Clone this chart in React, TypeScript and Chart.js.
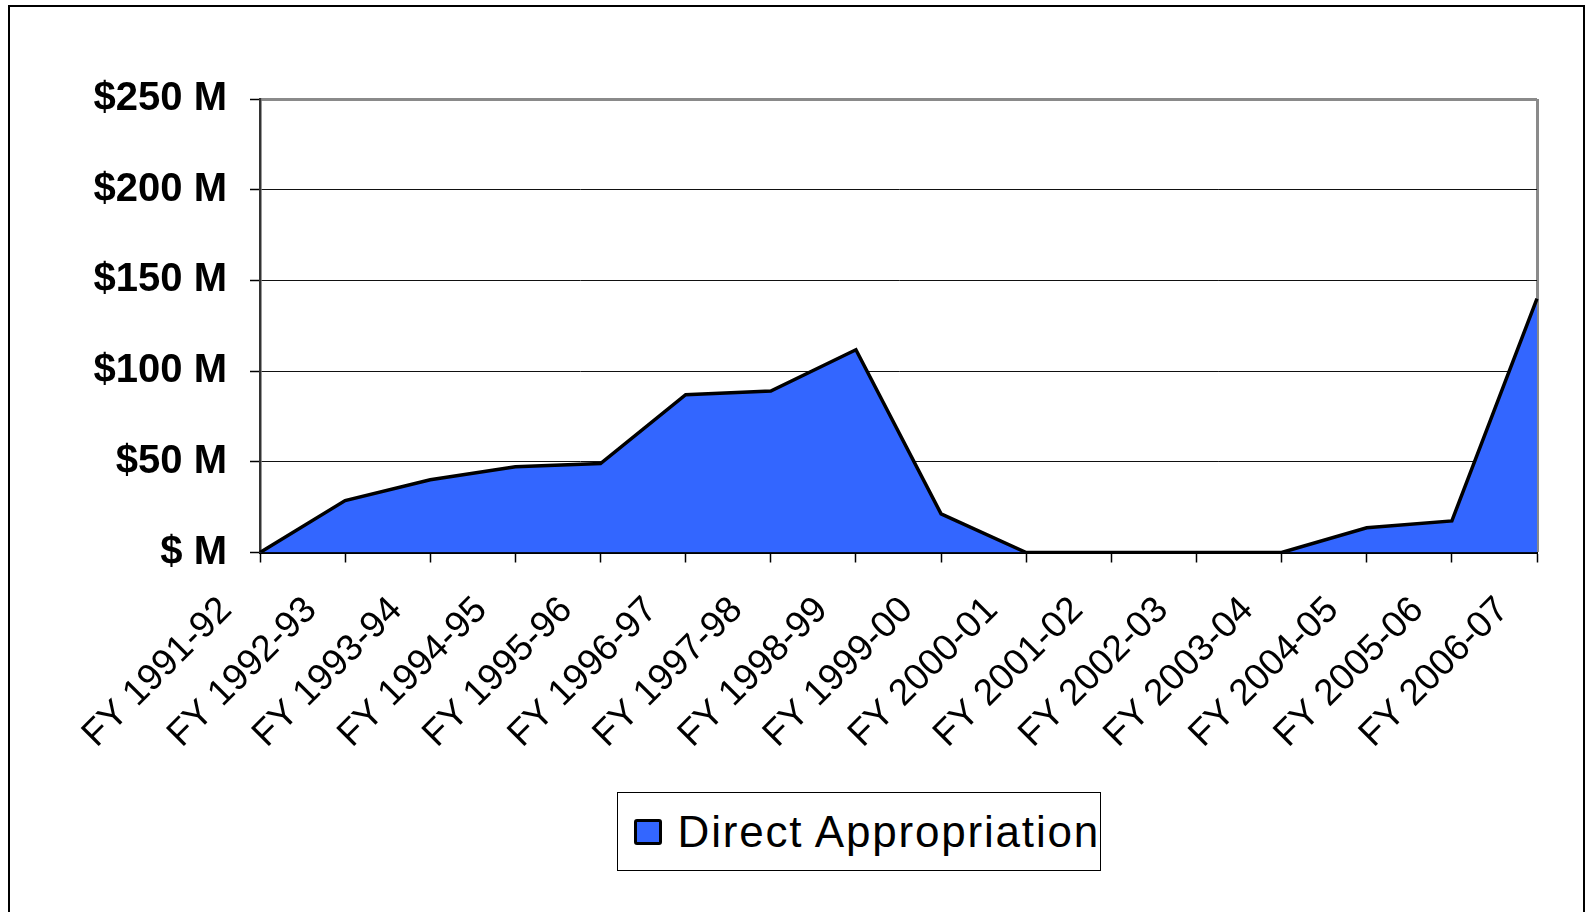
import React, { useEffect, useRef } from "react";
import { Chart, registerables } from "chart.js";

Chart.register(...registerables);

const categories = [
  "FY 1991-92", "FY 1992-93", "FY 1993-94", "FY 1994-95", "FY 1995-96",
  "FY 1996-97", "FY 1997-98", "FY 1998-99", "FY 1999-00", "FY 2000-01",
  "FY 2001-02", "FY 2002-03", "FY 2003-04", "FY 2004-05", "FY 2005-06",
  "FY 2006-07",
];
const directAppropriation = [0, 28.6, 40.1, 47.3, 49, 87, 89, 111.8, 21.3, 0, 0, 0, 0, 13.6, 17.4, 140];
const seriesLabel = "Direct Appropriation";
const yTicks = [0, 50, 100, 150, 200, 250];
const yTickLabels = ["$ M", "$50 M", "$100 M", "$150 M", "$200 M", "$250 M"];

const FONT = "'Liberation Sans', Arial, Helvetica, sans-serif";
const FILL = "#3366FF";

export default function App() {
  const ref = useRef<HTMLCanvasElement | null>(null);

  useEffect(() => {
    if (!ref.current) return;
    const chart = new Chart(ref.current, {
      type: "line",
      data: {
        labels: categories,
        datasets: [
          {
            label: seriesLabel,
            data: directAppropriation,
            fill: "origin",
            backgroundColor: FILL,
            borderColor: "#000000",
            borderWidth: 3.5,
            pointRadius: 0,
            tension: 0,
            borderJoinStyle: "miter",
          },
        ],
      },
      options: {
        animation: false,
        responsive: true,
        maintainAspectRatio: false,
        layout: { padding: { top: 99, right: 48, left: 0, bottom: 0 } },
        plugins: {
          legend: { display: false },
          tooltip: { enabled: false },
        },
        scales: {
          x: {
            type: "category",
            offset: false,
            afterFit: (s: any) => {
              s.height = 912 - 552.5;
              s.paddingLeft = 0;
              s.paddingRight = 0;
            },
            border: { display: true, color: "#000", width: 2 },
            grid: {
              display: true,
              drawOnChartArea: true,
              color: (ctx: any) =>
                ctx.index === categories.length - 1 ? "#8a8a8a" : "rgba(0,0,0,0)",
              lineWidth: (ctx: any) => (ctx.index === categories.length - 1 ? 3 : 1),
              tickColor: "#000",
              tickWidth: 1.5,
              tickLength: 10,
            },
            ticks: {
              autoSkip: false,
              minRotation: 45,
              maxRotation: 45,
              labelOffset: -34,
              padding: 26,
              color: "#000",
              font: { family: FONT, size: 37 },
            },
          },
          y: {
            min: 0,
            max: 250,
            afterFit: (s: any) => {
              s.width = 260;
            },
            afterBuildTicks: (s: any) => {
              s.ticks = yTicks.map((v) => ({ value: v }));
            },
            border: { display: true, color: "#333", width: 2.5 },
            grid: {
              color: (ctx: any) => (ctx.index === yTicks.length - 1 ? "#8a8a8a" : "#111"),
              lineWidth: (ctx: any) => (ctx.index === yTicks.length - 1 ? 3 : 1),
              tickColor: "#000",
              tickWidth: 1.5,
              tickLength: 10,
            },
            ticks: {
              padding: 23,
              color: "#000",
              font: { family: FONT, size: 40, weight: "bold" },
              callback: (_v: any, i: number) => yTickLabels[i],
            },
          },
        },
      },
    });
    return () => chart.destroy();
  }, []);

  return (
    <div style={{ position: "fixed", left: 0, top: 0, width: 1585, height: 912, background: "#fff", overflow: "hidden" }}>
      <div
        style={{
          position: "absolute",
          left: 8,
          top: 5,
          width: 1577,
          height: 1000,
          border: "2px solid #000",
          boxSizing: "border-box",
        }}
      />
      <div style={{ position: "absolute", left: 0, top: 0, width: 1585, height: 912 }}>
        <canvas ref={ref} />
      </div>
      <div
        style={{
          position: "absolute",
          left: 617,
          top: 792,
          width: 484,
          height: 79,
          border: "1.5px solid #000",
          boxSizing: "border-box",
          background: "#fff",
          fontFamily: FONT,
          fontSize: 44,
          color: "#000",
          display: "flex",
          alignItems: "center",
        }}
      >
        <span
          style={{
            display: "inline-block",
            marginLeft: 16,
            width: 28,
            height: 26,
            background: FILL,
            border: "3px solid #000",
            borderRadius: 3,
            boxSizing: "border-box",
          }}
        />
        <span style={{ marginLeft: 16, letterSpacing: 1.8, whiteSpace: "nowrap", lineHeight: 1 }}>{seriesLabel}</span>
      </div>
    </div>
  );
}
